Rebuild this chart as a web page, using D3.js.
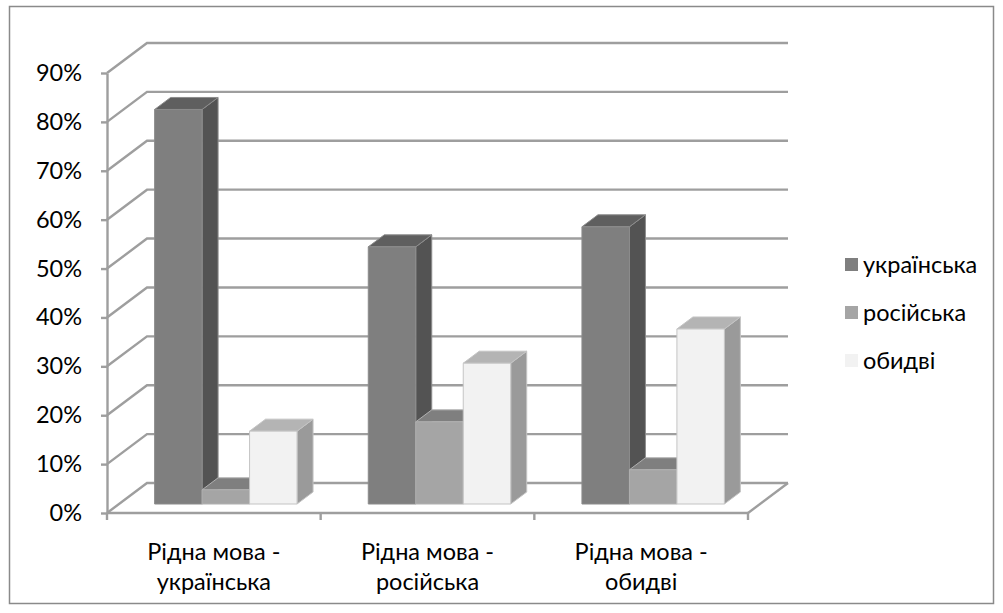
<!DOCTYPE html>
<html>
<head>
<meta charset="utf-8">
<script src="https://cdn.jsdelivr.net/npm/d3@7/dist/d3.min.js"></script>
<style>
  html, body { margin: 0; padding: 0; background: #fff; }
  svg { display: block; }
  text { font-family: Lato, "Liberation Sans", sans-serif; fill: #000; }
</style>
</head>
<body>
<svg id="chart" width="1003" height="613"></svg>
<script>
// Share of answers by native language (percent)
const categories = ["Рідна мова - українська", "Рідна мова - російська", "Рідна мова - обидві"];
const seriesNames = ["українська", "російська", "обидві"];
const ukrainian = [80.7, 52.6, 56.7];
const russian = [2.9, 16.8, 7.0];
const both = [14.9, 28.8, 35.8];
const yTicks = [0, 10, 20, 30, 40, 50, 60, 70, 80, 90];

const seriesValues = [ukrainian, russian, both];

// Face shades per series: front, top, side
const shades = [
  { front: "#7f7f7f", top: "#5f5f5f", side: "#535353", edge: "#8c8c8c" },
  { front: "#a5a5a5", top: "#7f7f7f", side: "#7a7a7a", edge: "#b0b0b0" },
  { front: "#f2f2f2", top: "#b4b4b4", side: "#9a9a9a", edge: "#c4c4c4" }
];

const svg = d3.select("#chart");
const W = 1003, H = 613;

// Outer frame
svg.append("rect")
  .attr("x", 9.5).attr("y", 6.5)
  .attr("width", 984).attr("height", 597)
  .attr("fill", "#fff").attr("stroke", "#8a8a8a").attr("stroke-width", 1.5);

// Front plane of the 3D box
const plotLeft = 107, plotRight = 748, plotTop = 73, plotBottom = 513;
// Depth offset of the back wall
const depthX = 40, depthY = -30;
// Bars occupy this slice of the depth
const barT0 = 0.3, barT1 = 0.7;

const x = d3.scaleBand().domain(categories).range([plotLeft, plotRight]).paddingInner(0).paddingOuter(0);
const y = d3.scaleLinear().domain([0, 90]).range([plotBottom, plotTop]);

// Three bars per category, gap width of 150% of a bar split on both sides
const barW = x.bandwidth() / 4.5;
const xs = d3.scaleBand().domain(seriesNames).range([0.75 * barW, 0.75 * barW + 3 * barW]);

const gridColor = "#9e9e9e";
const gridWidth = 2.4;

// Side wall + back wall gridlines
const grid = svg.append("g").attr("fill", "none").attr("stroke", gridColor).attr("stroke-width", gridWidth);
yTicks.forEach(v => {
  const yy = y(v);
  grid.append("path")
    .attr("stroke-linejoin", "miter")
    .attr("d", d3.line()([[plotLeft, yy], [plotLeft + depthX, yy + depthY], [plotRight + depthX, yy + depthY]]));
});
// Floor: right edge
grid.append("path")
  .attr("d", d3.line()([[plotRight, plotBottom], [plotRight + depthX, plotBottom + depthY]]));

// Bars
const bars = svg.append("g");
categories.forEach((cat, ci) => {
  seriesNames.forEach((s, si) => {
    const v = seriesValues[si][ci];
    const sh = shades[si];
    const fx0 = x(cat) + xs(s) + depthX * barT0;
    const fx1 = fx0 + xs.bandwidth();
    const fyTop = y(v) + depthY * barT0;
    const fyBot = y(0) + depthY * barT0;
    const dx = depthX * (barT1 - barT0), dy = depthY * (barT1 - barT0);
    const g = bars.append("g").attr("stroke", sh.edge).attr("stroke-width", 1).attr("stroke-linejoin", "round");
    // side
    g.append("path").attr("fill", sh.side)
      .attr("d", d3.line()([[fx1, fyTop], [fx1 + dx, fyTop + dy], [fx1 + dx, fyBot + dy], [fx1, fyBot]]) + "Z");
    // top
    g.append("path").attr("fill", sh.top)
      .attr("d", d3.line()([[fx0, fyTop], [fx0 + dx, fyTop + dy], [fx1 + dx, fyTop + dy], [fx1, fyTop]]) + "Z");
    // front
    g.append("rect").attr("fill", sh.front)
      .attr("x", fx0).attr("y", fyTop)
      .attr("width", fx1 - fx0).attr("height", fyBot - fyTop);
  });
});

// Value axis
const yAxis = d3.axisLeft(y)
  .tickValues(yTicks)
  .tickSize(6)
  .tickSizeOuter(0)
  .tickPadding(19)
  .tickFormat(d => d + "%");
const yg = svg.append("g").attr("transform", `translate(${plotLeft},0)`).call(yAxis);
yg.select(".domain").attr("stroke", gridColor).attr("stroke-width", gridWidth);
yg.selectAll(".tick line").attr("stroke", gridColor).attr("stroke-width", gridWidth);
yg.selectAll(".tick text")
  .attr("font-family", "Lato, 'Liberation Sans', sans-serif")
  .attr("font-size", 23.5)
  .attr("fill", "#000");

// Category axis: floor front edge with boundary ticks
const xg = svg.append("g").attr("stroke", gridColor).attr("stroke-width", gridWidth);
xg.append("line")
  .attr("x1", plotLeft).attr("x2", plotRight)
  .attr("y1", plotBottom).attr("y2", plotBottom);
const bounds = categories.map(c => x(c)).concat([x(categories[categories.length - 1]) + x.bandwidth()]);
xg.selectAll("line.tick").data(bounds).join("line")
  .attr("class", "tick")
  .attr("x1", d => d).attr("x2", d => d)
  .attr("y1", plotBottom).attr("y2", plotBottom + 7);

// Category labels, split over two lines at the dash
const labels = svg.append("g");
categories.forEach(cat => {
  const parts = cat.split(" - ");
  const lines = [parts[0] + " -", parts[1]];
  const cx = x(cat) + x.bandwidth() / 2;
  const t = labels.append("text")
    .attr("text-anchor", "middle")
    .attr("font-size", 23.5);
  lines.forEach((ln, i) => {
    t.append("tspan").attr("x", cx).attr("y", 560 + i * 30).text(ln);
  });
});

// Legend
const legend = svg.append("g").attr("transform", "translate(845,0)");
seriesNames.forEach((s, i) => {
  const cy = 265 + i * 48;
  legend.append("rect")
    .attr("x", 0).attr("y", cy - 7)
    .attr("width", 13).attr("height", 13)
    .attr("fill", shades[i].front);
  legend.append("text")
    .attr("x", 18).attr("y", cy)
    .attr("dy", "0.35em")
    .attr("font-size", 23.5)
    .text(s);
});
</script>
</body>
</html>
